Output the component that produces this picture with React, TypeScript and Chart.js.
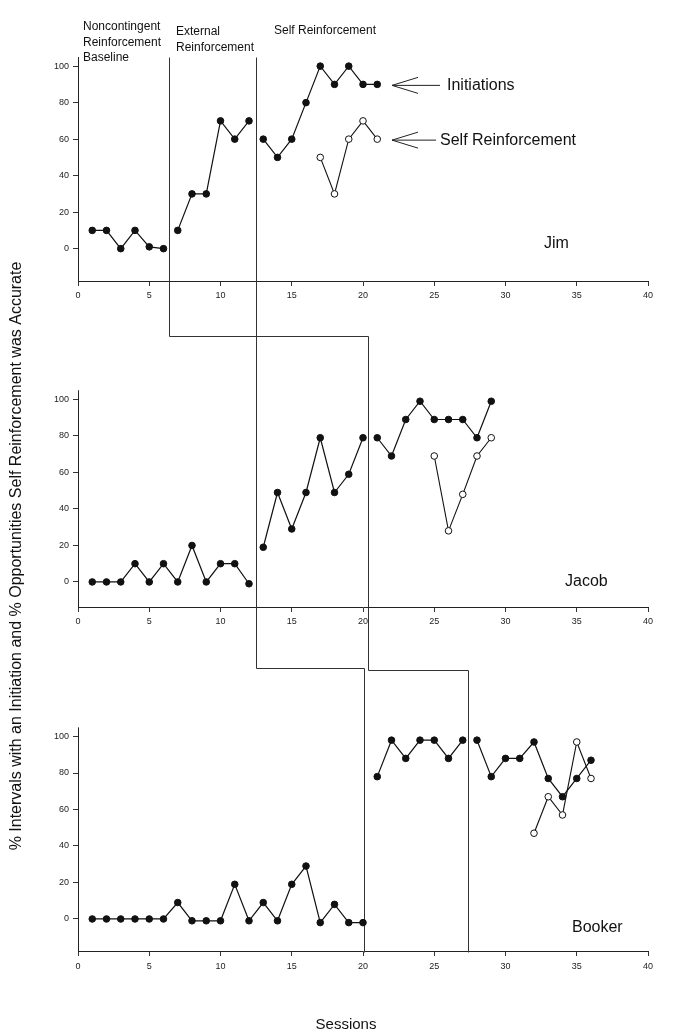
import React, { useEffect, useRef } from "react";
import { Chart, registerables } from "chart.js";

Chart.register(...registerables);

// ---------------- Data ----------------
const participants = ["Jim", "Jacob", "Booker"];

const jimBaselineSessions = [1, 2, 3, 4, 5, 6];
const jimBaselineInit = [10, 10, 0, 10, 1, 0];
const jimExternalSessions = [7, 8, 9, 10, 11, 12];
const jimExternalInit = [10, 30, 30, 70, 60, 70];
const jimSelfSessions = [13, 14, 15, 16, 17, 18, 19, 20, 21];
const jimSelfInit = [60, 50, 60, 80, 100, 90, 100, 90, 90];
const jimSRSessions = [17, 18, 19, 20, 21];
const jimSRValues = [50, 30, 60, 70, 60];

const jacobBaselineSessions = [1, 2, 3, 4, 5, 6, 7, 8, 9, 10, 11, 12];
const jacobBaselineInit = [0, 0, 0, 10, 0, 10, 0, 20, 0, 10, 10, -1];
const jacobExternalSessions = [13, 14, 15, 16, 17, 18, 19, 20];
const jacobExternalInit = [19, 49, 29, 49, 79, 49, 59, 79];
const jacobSelfSessions = [21, 22, 23, 24, 25, 26, 27, 28, 29];
const jacobSelfInit = [79, 69, 89, 99, 89, 89, 89, 79, 99];
const jacobSRSessions = [25, 26, 27, 28, 29];
const jacobSRValues = [69, 28, 48, 69, 79];

const bookerBaselineSessions = [1, 2, 3, 4, 5, 6, 7, 8, 9, 10, 11, 12, 13, 14, 15, 16, 17, 18, 19, 20];
const bookerBaselineInit = [0, 0, 0, 0, 0, 0, 9, -1, -1, -1, 19, -1, 9, -1, 19, 29, -2, 8, -2, -2];
const bookerExternalSessions = [21, 22, 23, 24, 25, 26, 27];
const bookerExternalInit = [78, 98, 88, 98, 98, 88, 98];
const bookerSelfSessions = [28, 29, 30, 31, 32, 33, 34, 35, 36];
const bookerSelfInit = [98, 78, 88, 88, 97, 77, 67, 77, 87];
const bookerSRSessions = [32, 33, 34, 35, 36];
const bookerSRValues = [47, 67, 57, 97, 77];

// phase-change positions (session units) per participant
const jimPhaseChanges = [6.4, 12.5];
const jacobPhaseChanges = [12.5, 20.35];
const bookerPhaseChanges = [20.05, 27.4];

const xTicks = [0, 5, 10, 15, 20, 25, 30, 35, 40];
const yTicks = [0, 20, 40, 60, 80, 100];

const phaseLabels = [
  ["Noncontingent", "Reinforcement", "Baseline"],
  ["External", "Reinforcement"],
  ["Self Reinforcement"],
];
const seriesLabels = ["Initiations", "Self Reinforcement"];
const xTitle = "Sessions";
const yTitle = "% Intervals with an Initiation and % Opportunities Self Reinforcement was Accurate";

// ---------------- Layout helpers ----------------
const FONT = "'Liberation Sans', Arial, Helvetica, sans-serif";
const Y_TOP = 105;
const PANELS = [
  { x: "x1", y: "y1", axisMin: -18, min: -48.4, max: 105, weight: 280 },
  { x: "x2", y: "y2", axisMin: -14, min: -47.7, max: 134.2, weight: 332 },
  { x: "x3", y: "y3", axisMin: -18, min: -18.1, max: 137, weight: 283 },
];

const pts = (xs: number[], ys: number[]) => xs.map((x, i) => ({ x, y: ys[i] }));

function filled(xs: number[], ys: number[], p: number) {
  return {
    data: pts(xs, ys),
    xAxisID: PANELS[p].x,
    yAxisID: PANELS[p].y,
    showLine: true,
    borderColor: "#111",
    borderWidth: 1.2,
    pointRadius: 3.3,
    pointBackgroundColor: "#111",
    pointBorderColor: "#111",
    pointBorderWidth: 1,
  };
}
function open(xs: number[], ys: number[], p: number) {
  return {
    data: pts(xs, ys),
    xAxisID: PANELS[p].x,
    yAxisID: PANELS[p].y,
    showLine: true,
    borderColor: "#111",
    borderWidth: 1.1,
    pointRadius: 3.3,
    pointBackgroundColor: "#fff",
    pointBorderColor: "#111",
    pointBorderWidth: 1,
  };
}

const phasePaths = [
  { xs: [jimPhaseChanges[0], jacobPhaseChanges[1], bookerPhaseChanges[1]], connectors: [-48, -48.5] },
  { xs: [jimPhaseChanges[1], jacobPhaseChanges[0], bookerPhaseChanges[0]], connectors: [-48, -47] },
];

const overlayPlugin = {
  id: "overlay",
  beforeDatasetsDraw(chart: any) {
    const ctx = chart.ctx;
    const s = chart.scales;
    ctx.save();
    ctx.lineWidth = 1;
    ctx.strokeStyle = "#222";
    PANELS.forEach((p) => {
      const x = Math.round(s[p.x].getPixelForValue(0)) + 0.5;
      ctx.beginPath();
      ctx.moveTo(x, s[p.y].getPixelForValue(Y_TOP));
      ctx.lineTo(x, s[p.y].getPixelForValue(p.axisMin));
      ctx.stroke();
    });
    ctx.strokeStyle = "#333";
    phasePaths.forEach((path) => {
      const X = (i: number) => Math.round(s[PANELS[i].x].getPixelForValue(path.xs[i])) + 0.5;
      const Y = (i: number, v: number) => Math.round(s[PANELS[i].y].getPixelForValue(v)) + 0.5;
      ctx.beginPath();
      ctx.moveTo(X(0), Y(0, Y_TOP));
      ctx.lineTo(X(0), Y(0, path.connectors[0]));
      ctx.lineTo(X(1), Y(0, path.connectors[0]));
      ctx.lineTo(X(1), Y(1, path.connectors[1]));
      ctx.lineTo(X(2), Y(1, path.connectors[1]));
      ctx.lineTo(X(2), Y(2, PANELS[2].axisMin));
      ctx.stroke();
    });
    ctx.restore();
  },
  afterDraw(chart: any) {
    const ctx = chart.ctx;
    const s = chart.scales;
    ctx.save();
    ctx.fillStyle = "#111";
    ctx.textBaseline = "middle";
    ctx.textAlign = "left";
    ctx.font = `12px ${FONT}`;
    const phaseAnchors = [
      [83, 27],
      [176, 32],
      [274, 31],
    ];
    phaseLabels.forEach((lines, i) => {
      lines.forEach((t, j) => ctx.fillText(t, phaseAnchors[i][0], phaseAnchors[i][1] + j * 15.5));
    });
    ctx.font = `16px ${FONT}`;
    const arrowRows = [
      { y: s.y1.getPixelForValue(jimSelfInit[jimSelfInit.length - 1]) + 1, shaftEnd: 440, text: seriesLabels[0], tx: 447 },
      { y: s.y1.getPixelForValue(jimSRValues[jimSRValues.length - 1]) + 1, shaftEnd: 436, text: seriesLabels[1], tx: 440 },
    ];
    ctx.strokeStyle = "#222";
    ctx.lineWidth = 1;
    arrowRows.forEach((r) => {
      const tip = 392;
      ctx.beginPath();
      ctx.moveTo(418, r.y - 8);
      ctx.lineTo(tip, r.y);
      ctx.lineTo(418, r.y + 8);
      ctx.moveTo(tip, r.y);
      ctx.lineTo(r.shaftEnd, r.y);
      ctx.stroke();
      ctx.fillText(r.text, r.tx, r.y);
    });
    const nameAnchors = [
      [544, 244],
      [565, 582],
      [572, 928],
    ];
    participants.forEach((n, i) => ctx.fillText(n, nameAnchors[i][0], nameAnchors[i][1]));
    ctx.font = `15px ${FONT}`;
    ctx.textAlign = "center";
    ctx.fillText(xTitle, 346, 1025);
    ctx.translate(17, 556);
    ctx.rotate(-Math.PI / 2);
    ctx.font = `16px ${FONT}`;
    ctx.fillText(yTitle, 0, 0);
    ctx.restore();
  },
};

export default function App() {
  const ref = useRef<HTMLCanvasElement | null>(null);
  useEffect(() => {
    if (!ref.current) return;
    Chart.defaults.font.family = FONT;
    const datasets: any[] = [
      filled(jimBaselineSessions, jimBaselineInit, 0),
      filled(jimExternalSessions, jimExternalInit, 0),
      filled(jimSelfSessions, jimSelfInit, 0),
      open(jimSRSessions, jimSRValues, 0),
      filled(jacobBaselineSessions, jacobBaselineInit, 1),
      filled(jacobExternalSessions, jacobExternalInit, 1),
      filled(jacobSelfSessions, jacobSelfInit, 1),
      open(jacobSRSessions, jacobSRValues, 1),
      filled(bookerBaselineSessions, bookerBaselineInit, 2),
      filled(bookerExternalSessions, bookerExternalInit, 2),
      filled(bookerSelfSessions, bookerSelfInit, 2),
      open(bookerSRSessions, bookerSRValues, 2),
    ];
    const scales: any = {};
    PANELS.forEach((p, i) => {
      scales[p.y] = {
        type: "linear",
        axis: "y",
        position: "left",
        stack: "panels",
        stackWeight: p.weight,
        weight: 3 - i,
        min: p.min,
        max: p.max,
        afterBuildTicks: (sc: any) => {
          sc.ticks = yTicks.map((v) => ({ value: v }));
        },
        afterFit: (sc: any) => {
          sc.width = 30;
        },
        border: { display: false },
        grid: { drawOnChartArea: false, drawTicks: true, tickLength: 5, color: "#333" },
        ticks: { font: { size: 9, family: FONT }, color: "#222", padding: 4 },
      };
      scales[p.x] = {
        type: "linear",
        axis: "x",
        position: { [p.y]: p.axisMin },
        min: 0,
        max: 40,
        afterBuildTicks: (sc: any) => {
          sc.ticks = xTicks.map((v) => ({ value: v }));
        },
        border: { display: true, color: "#222", width: 1 },
        grid: { drawOnChartArea: false, drawTicks: true, tickLength: 4, color: "#333" },
        ticks: { font: { size: 9, family: FONT }, color: "#222", padding: 5, autoSkip: false, maxRotation: 0 },
      };
    });
    const chart = new Chart(ref.current, {
      type: "scatter",
      data: { datasets },
      options: {
        animation: false,
        responsive: false,
        devicePixelRatio: 1,
        layout: { padding: { left: 48, right: 34, top: 57, bottom: 81 } },
        plugins: { legend: { display: false }, tooltip: { enabled: false } },
        scales,
      },
      plugins: [overlayPlugin],
    } as any);
    return () => chart.destroy();
  }, []);
  return (
    <div style={{ position: "absolute", left: 0, top: 0, width: 682, height: 1033, background: "#fff" }}>
      <canvas ref={ref} width={682} height={1033} style={{ display: "block" }} />
    </div>
  );
}
